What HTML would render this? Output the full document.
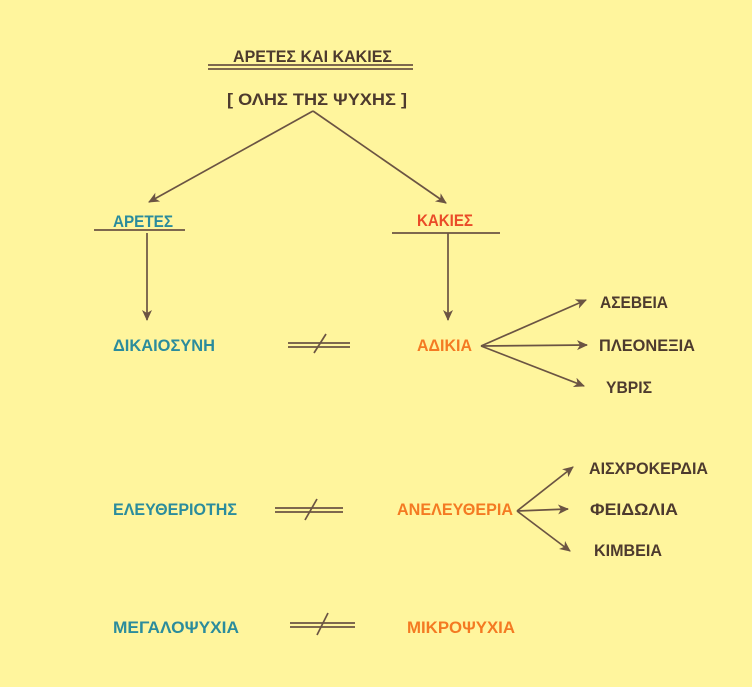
<!DOCTYPE html>
<html><head><meta charset="utf-8"><style>
html,body{margin:0;padding:0;background:#fff59d;}
svg{display:block;}
text{font-family:"Liberation Sans","DejaVu Sans",sans-serif;font-weight:bold;font-size:17px;}
.t{fill:#2b8c9c}.o{fill:#f47a22}.r{fill:#ea4b28}.b{fill:#4d3a2e}
</style></head><body>
<svg width="752" height="687" viewBox="0 0 752 687" xmlns="http://www.w3.org/2000/svg">
<defs>
<marker id="a" markerWidth="12" markerHeight="12" refX="10" refY="5" orient="auto" markerUnits="userSpaceOnUse">
<path d="M0,0 L11,5 L0,10 L3,5 Z" fill="#6b5443"/>
</marker>
</defs>
<rect width="752" height="687" fill="#fff59d"/>
<g stroke="#6b5443" stroke-width="1.7" fill="none">
<line x1="208" y1="65" x2="413" y2="65"/>
<line x1="208" y1="69" x2="413" y2="69"/>
<line x1="313" y1="111" x2="149" y2="202" marker-end="url(#a)"/>
<line x1="313" y1="111" x2="446" y2="203" marker-end="url(#a)"/>
<line x1="94" y1="230" x2="185" y2="230"/>
<line x1="392" y1="233" x2="500" y2="233"/>
<line x1="147" y1="233" x2="147" y2="320" marker-end="url(#a)"/>
<line x1="448" y1="233" x2="448" y2="320" marker-end="url(#a)"/>
<line x1="481" y1="346" x2="586" y2="300" marker-end="url(#a)"/>
<line x1="481" y1="346" x2="587" y2="345" marker-end="url(#a)"/>
<line x1="481" y1="346" x2="584" y2="386" marker-end="url(#a)"/>
<line x1="517" y1="511" x2="573" y2="467" marker-end="url(#a)"/>
<line x1="517" y1="511" x2="568" y2="509" marker-end="url(#a)"/>
<line x1="517" y1="511" x2="570" y2="551" marker-end="url(#a)"/>
<line x1="288" y1="343" x2="350" y2="343"/><line x1="288" y1="347" x2="350" y2="347"/>
<line x1="314" y1="353" x2="326" y2="334"/>
<line x1="275" y1="508" x2="343" y2="508"/><line x1="275" y1="512" x2="343" y2="512"/>
<line x1="305" y1="520" x2="317" y2="499"/>
<line x1="290" y1="623" x2="355" y2="623"/><line x1="290" y1="627" x2="355" y2="627"/>
<line x1="317" y1="635" x2="328" y2="613"/>
</g>
<text class="b" x="233" y="62" textLength="159" lengthAdjust="spacingAndGlyphs">ΑΡΕΤΕΣ  ΚΑΙ ΚΑΚΙΕΣ</text>
<text class="b" x="227" y="105" textLength="180" lengthAdjust="spacingAndGlyphs">[  ΟΛΗΣ ΤΗΣ ΨΥΧΗΣ ]</text>
<text class="t" x="113" y="227" textLength="60" lengthAdjust="spacingAndGlyphs">ΑΡΕΤΕΣ</text>
<text class="r" x="417" y="226" textLength="56" lengthAdjust="spacingAndGlyphs">ΚΑΚΙΕΣ</text>
<text class="t" x="113" y="351" textLength="102" lengthAdjust="spacingAndGlyphs">ΔΙΚΑΙΟΣΥΝΗ</text>
<text class="o" x="417" y="351" textLength="55" lengthAdjust="spacingAndGlyphs">ΑΔΙΚΙΑ</text>
<text class="b" x="600" y="308" textLength="68" lengthAdjust="spacingAndGlyphs">ΑΣΕΒΕΙΑ</text>
<text class="b" x="599" y="351" textLength="96" lengthAdjust="spacingAndGlyphs">ΠΛΕΟΝΕΞΙΑ</text>
<text class="b" x="606" y="393" textLength="46" lengthAdjust="spacingAndGlyphs">ΥΒΡΙΣ</text>
<text class="t" x="113" y="515" textLength="124" lengthAdjust="spacingAndGlyphs">ΕΛΕΥΘΕΡΙΟΤΗΣ</text>
<text class="o" x="397" y="515" textLength="116" lengthAdjust="spacingAndGlyphs">ΑΝΕΛΕΥΘΕΡΙΑ</text>
<text class="b" x="589" y="474" textLength="119" lengthAdjust="spacingAndGlyphs">ΑΙΣΧΡΟΚΕΡΔΙΑ</text>
<text class="b" x="590" y="515" textLength="88" lengthAdjust="spacingAndGlyphs">ΦΕΙΔΩΛΙΑ</text>
<text class="b" x="594" y="556" textLength="68" lengthAdjust="spacingAndGlyphs">ΚΙΜΒΕΙΑ</text>
<text class="t" x="113" y="633" textLength="126" lengthAdjust="spacingAndGlyphs">ΜΕΓΑΛΟΨΥΧΙΑ</text>
<text class="o" x="407" y="633" textLength="108" lengthAdjust="spacingAndGlyphs">ΜΙΚΡΟΨΥΧΙΑ</text>
</svg>
</body></html>
